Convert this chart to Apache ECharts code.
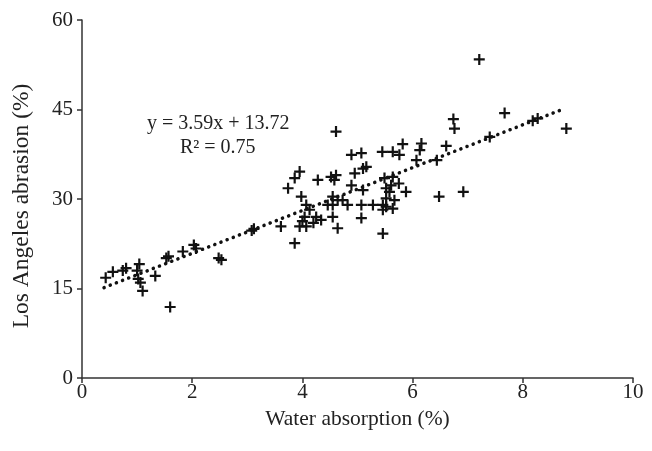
<!DOCTYPE html>
<html>
<head>
<meta charset="utf-8">
<script src="https://cdn.jsdelivr.net/npm/echarts@6/dist/echarts.min.js"></script>
<style>html,body{margin:0;padding:0;background:#fff}#c{width:652px;height:451px}</style>
</head>
<body>
<div id="c"></div>
<script>
const xAxisName = 'Water absorption (%)';
const yAxisName = 'Los Angeles abrasion (%)';
const xTicks = [0, 2, 4, 6, 8, 10];
const yTicks = [0, 15, 30, 45, 60];
const slope = 3.59;
const intercept = 13.72;
const trendRange = [0.4, 8.7];
const equationText = 'y = 3.59x + 13.72';
const r2Text = 'R\u00b2 = 0.75';

const waterAbsorption = [
  0.43,0.56,0.74,0.80,1.00,1.04,1.02,1.06,1.10,1.33,1.60,1.53,1.57,1.83,2.03,2.07,2.48,2.53,3.08,3.12,
  3.61,3.74,3.86,3.95,3.86,3.98,4.07,4.13,4.04,4.25,4.34,3.95,4.07,4.28,4.52,4.61,4.58,4.61,4.55,4.64,
  4.73,4.46,4.55,4.82,5.07,5.28,5.46,4.55,4.64,5.07,4.89,5.10,4.95,5.10,5.16,4.89,5.07,5.45,5.64,5.46,
  5.52,5.64,5.46,5.52,5.58,5.61,5.52,5.67,5.49,5.64,5.82,5.76,5.88,5.75,4.20,4.00,
  6.07,6.13,6.16,6.44,6.48,6.61,6.74,6.76,6.92,7.21,7.40,7.67,8.18,8.27,8.79
];
const laAbrasion = [
  16.8,17.8,18.0,18.4,18.0,19.1,16.6,16.0,14.6,17.1,11.9,20.1,20.4,21.2,22.3,21.7,20.1,19.8,24.7,25.0,
  25.4,31.8,33.5,34.6,22.6,30.4,29.0,28.2,27.0,27.0,26.5,25.4,25.4,33.2,33.7,34.0,33.2,41.3,30.4,29.8,
  29.8,29.0,29.0,29.0,29.0,29.0,29.0,27.0,25.1,26.8,32.3,31.5,34.3,35.1,35.4,37.4,37.7,37.9,37.9,28.2,
  28.7,28.4,24.2,31.8,31.2,32.3,30.1,29.8,33.5,33.7,39.2,37.4,31.2,32.6,26.0,26.3,
  36.5,38.2,39.3,36.5,30.4,38.9,43.4,41.8,31.2,53.4,40.4,44.4,43.1,43.5,41.8
];

const scatterData = waterAbsorption.map((x, i) => [x, laAbrasion[i]]);
const trendData = trendRange.map(x => [x, slope * x + intercept]);

const serif = '"Liberation Serif", "Times New Roman", serif';
const textColor = '#222';
const axisColor = '#333';

const chart = echarts.init(document.getElementById('c'), null, {renderer: 'canvas'});
chart.setOption({
  animation: false,
  backgroundColor: '#fff',
  grid: {left: 82, right: 19, top: 20, bottom: 73},
  xAxis: {
    type: 'value', min: xTicks[0], max: xTicks[xTicks.length - 1], interval: 2,
    name: xAxisName, nameLocation: 'middle', nameGap: 28,
    nameTextStyle: {fontFamily: serif, fontSize: 21.5, color: textColor},
    axisLine: {show: true, lineStyle: {color: axisColor, width: 1.5}},
    axisTick: {show: true, inside: false, length: 5, lineStyle: {color: axisColor, width: 1.5}},
    axisLabel: {fontFamily: serif, fontSize: 21, color: textColor, margin: 4},
    splitLine: {show: false}
  },
  yAxis: {
    type: 'value', min: yTicks[0], max: yTicks[yTicks.length - 1], interval: 15,
    name: yAxisName, nameLocation: 'middle', nameGap: 48, nameRotate: 90,
    nameTextStyle: {fontFamily: serif, fontSize: 23.5, color: textColor, padding: [0, 14, 0, 0]},
    axisLine: {show: true, lineStyle: {color: axisColor, width: 1.5}},
    axisTick: {show: true, inside: false, length: 5, lineStyle: {color: axisColor, width: 1.5}},
    axisLabel: {fontFamily: serif, fontSize: 21, color: textColor, margin: 9},
    splitLine: {show: false}
  },
  series: [
    {
      type: 'line', data: trendData, symbol: 'none', silent: true, z: 1,
      lineStyle: {color: '#111', width: 3.5, type: [0.1, 6.5], cap: 'round'}
    },
    {
      type: 'scatter', data: scatterData, z: 2,
      symbol: 'path://M4,0H6V4H10V6H6V10H4V6H0V4H4Z', symbolSize: 11,
      itemStyle: {color: '#111', opacity: 1}
    }
  ],
  graphic: [
    {type: 'text', left: 147, top: 114, style: {text: equationText, font: '20px ' + serif, fill: textColor}},
    {type: 'text', left: 180, top: 138, style: {text: r2Text, font: '20px ' + serif, fill: textColor}}
  ]
});
</script>
</body>
</html>
